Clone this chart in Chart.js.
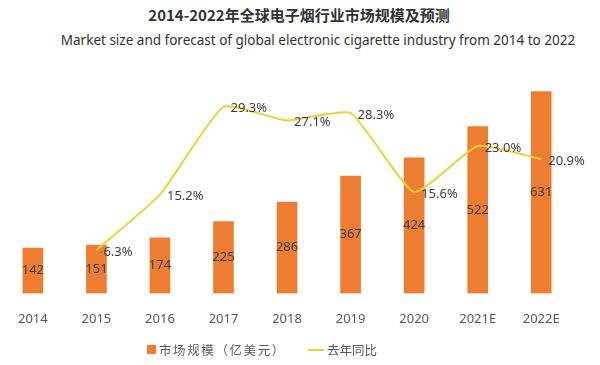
<!DOCTYPE html>
<html>
<head>
<meta charset="utf-8">
<script src="https://cdn.jsdelivr.net/npm/chart.js@4/dist/chart.umd.min.js"></script>
<style>
  html, body { margin: 0; padding: 0; background: #fff; }
  #wrap { position: relative; width: 600px; height: 365px; overflow: hidden; }
  #chart { position: absolute; left: 0; top: 0; }
  .title { position: absolute; white-space: nowrap; color: #333; font-family: "Noto Sans CJK SC", "Noto Sans", sans-serif; }
  #t1 { top: 4px; left: 0; width: 598px; text-align: center; font-size: 15px; font-weight: bold; }
  #t2 { top: 31px; left: 57px; width: 522px; text-align: center; font-size: 13.5px; font-family: "Noto Sans", sans-serif; }
  #legend { position: absolute; top: 338px; left: 147px; font-family: "Noto Sans CJK SC", sans-serif; font-size: 12.5px; color: #595959; white-space: nowrap; }
  #legend span { display: inline-block; vertical-align: middle; }
  .sq { width: 9px; height: 9px; background: #ED7D31; margin-right: 3px; }
  .wide { letter-spacing: 1.6px; }
  .ln { width: 16px; height: 2px; background: #F2D03A; margin-left: 22px; margin-right: 3px; }
</style>
</head>
<body>
<div id="wrap">
  <div class="title" id="t1">2014-2022年全球电子烟行业市场规模及预测</div>
  <div class="title" id="t2">Market size and forecast of global electronic cigarette industry from 2014 to 2022</div>
  <canvas id="chart" width="600" height="365"></canvas>
  <div id="legend"><span class="sq"></span><span class="wide">市场规模（亿美元）</span><span class="ln"></span><span>去年同比</span></div>
</div>
<script>
/* -------------------- DATA -------------------- */
const years = ["2014", "2015", "2016", "2017", "2018", "2019", "2020", "2021E", "2022E"];
const marketSize = [142, 151, 174, 225, 286, 367, 424, 522, 631];
const yoyGrowth = [null, 6.3, 15.2, 29.3, 27.1, 28.3, 15.6, 23.0, 20.9];

/* -------------------- VALUE LABELS -------------------- */
const valueLabels = {
  id: "valueLabels",
  afterDatasetsDraw(chart) {
    const ctx = chart.ctx;
    ctx.save();
    ctx.font = "13px 'Noto Sans', sans-serif";
    ctx.fillStyle = "#404040";
    ctx.textBaseline = "middle";

    const bars = chart.getDatasetMeta(0);
    ctx.textAlign = "center";
    bars.data.forEach((el, i) => {
      ctx.fillText(marketSize[i], el.x, (el.y + el.base) / 2);
    });

    const line = chart.getDatasetMeta(1);
    ctx.textAlign = "left";
    line.data.forEach((el, i) => {
      if (yoyGrowth[i] == null) return;
      ctx.fillText(yoyGrowth[i].toFixed(1) + "%", el.x + 7, el.y + 2);
    });
    ctx.restore();
  }
};

/* -------------------- CHART -------------------- */
new Chart(document.getElementById("chart"), {
  data: {
    labels: years,
    datasets: [
      {
        type: "bar",
        data: marketSize,
        backgroundColor: "#ED7D31",
        barThickness: 20,
        yAxisID: "y",
        order: 2
      },
      {
        type: "line",
        data: yoyGrowth,
        borderColor: "#F2D03A",
        borderWidth: 2,
        pointRadius: 0,
        tension: 0.15,
        yAxisID: "y1",
        order: 1
      }
    ]
  },
  options: {
    responsive: false,
    animation: false,
    layout: { padding: { top: 60, left: 0, right: 27, bottom: 20 } },
    plugins: {
      legend: { display: false },
      tooltip: { enabled: false }
    },
    scales: {
      x: {
        grid: { display: false, drawTicks: false },
        border: { display: false },
        ticks: { padding: 18, color: "#595959", font: { size: 13, family: "'Noto Sans', sans-serif" } }
      },
      y: { display: false, min: 0, max: 730 },
      y1: { display: false, min: -0.63, max: 36.8 }
    }
  },
  plugins: [valueLabels]
});
</script>
</body>
</html>
